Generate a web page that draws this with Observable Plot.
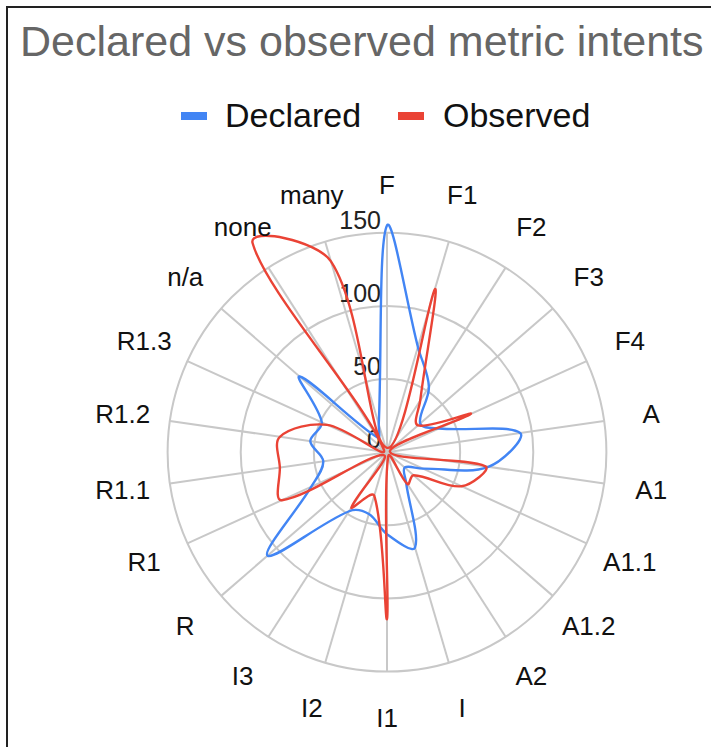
<!DOCTYPE html>
<html>
<head>
<meta charset="utf-8">
<script src="https://cdn.jsdelivr.net/npm/d3@7"></script>
<script src="https://cdn.jsdelivr.net/npm/@observablehq/plot@0.6"></script>
<style>
  html, body { margin: 0; padding: 0; background: #fff; overflow: hidden; }
  body { width: 711px; height: 747px; position: relative; font-family: "Liberation Sans", Arial, sans-serif; }
  #frame { position: absolute; left: 6px; top: 6px; width: 1000px; height: 1000px; border: 2px solid #222; box-sizing: border-box; }
  #title { position: absolute; left: 20px; top: 20px; font-size: 43px; line-height: 1; color: #666; white-space: nowrap; }
  .leg { position: absolute; top: 98px; font-size: 34px; line-height: 1; color: #111; white-space: nowrap; }
  .sw { position: absolute; top: 112px; width: 26px; height: 8px; }
  #chart { position: absolute; left: 0; top: 150px; }
</style>
</head>
<body>
<div id="frame"></div>
<div id="title">Declared vs observed metric intents</div>
<div class="sw" style="left:181px;background:#4285F4"></div>
<div class="leg" style="left:225px">Declared</div>
<div class="sw" style="left:398px;background:#EA4335"></div>
<div class="leg" style="left:443px">Observed</div>
<div id="chart"></div>
<script>
const categories = ["F","F1","F2","F3","F4","A","A1","A1.1","A1.2","A2","I","I1","I2","I3","R","R1","R1.1","R1.2","R1.3","n/a","none","many"];
const declared = [155,75,53,30,39,92,70,27,16,24,68,56,44,48,108,57,44,53,49,79,12,20];
const observed = [3,116,42,28,63,2,68,56,24,26,3,114,31,45,3,79,74,74,45,3,170,136];
const seriesNames = ["Declared","Observed"];
const seriesColors = ["#4285F4","#EA4335"];
const ticks = [0,50,100,150];
const rings = [50,100,150];
const maxValue = 150;
const labelRadius = 182.5;

const n = categories.length;
const angle = i => 2 * Math.PI * i / n;
const rows = [];
[declared, observed].forEach((vals, s) => {
  vals.forEach((v, i) => rows.push({series: seriesNames[s], category: categories[i], i, value: v}));
});
const cats = categories.map((c, i) => ({category: c, i}));

// Chart.js-like closed spline (tension) as a d3 curve factory
function splineClosed(tension) {
  return function(context) {
    let pts = [];
    return {
      areaStart() {}, areaEnd() {},
      lineStart() { pts = []; },
      point(x, y) { pts.push([+x, +y]); },
      lineEnd() {
        const m = pts.length;
        if (!m) return;
        const cps = pts.map((p, i) => {
          const a = pts[(i - 1 + m) % m], b = pts[(i + 1) % m];
          const d01 = Math.hypot(p[0] - a[0], p[1] - a[1]);
          const d12 = Math.hypot(b[0] - p[0], b[1] - p[1]);
          let s01 = d01 / (d01 + d12), s12 = d12 / (d01 + d12);
          if (!isFinite(s01)) s01 = 0;
          if (!isFinite(s12)) s12 = 0;
          const fa = tension * s01, fb = tension * s12;
          return {
            p: [p[0] - fa * (b[0] - a[0]), p[1] - fa * (b[1] - a[1])],
            q: [p[0] + fb * (b[0] - a[0]), p[1] + fb * (b[1] - a[1])]
          };
        });
        context.moveTo(pts[0][0], pts[0][1]);
        for (let k = 1; k <= m; k++) {
          const c0 = cps[k - 1], c1 = cps[k % m], p = pts[k % m];
          context.bezierCurveTo(c0.q[0], c0.q[1], c1.p[0], c1.p[1], p[0], p[1]);
        }
        context.closePath();
      }
    };
  };
}

const cx = 386.5, cy = 301.7, R = 219.4;
const chart = Plot.plot({
  width: 711,
  height: 597,
  margin: 0,
  style: {fontFamily: "'Liberation Sans', Arial, sans-serif", background: "transparent", overflow: "visible"},
  x: {domain: [-maxValue, maxValue], range: [cx - R, cx + R], axis: null},
  y: {domain: [-maxValue, maxValue], range: [cy + R, cy - R], axis: null},
  r: {type: "linear", domain: [0, maxValue], range: [0, R]},
  color: {domain: seriesNames, range: seriesColors},
  marks: [
    Plot.dot(rings, {x: () => 0, y: () => 0, r: d => d, fill: "none", stroke: "#c8c8c8", strokeWidth: 2}),
    Plot.link(cats, {x1: () => 0, y1: () => 0,
      x2: d => maxValue * Math.sin(angle(d.i)), y2: d => maxValue * Math.cos(angle(d.i)),
      stroke: "#c8c8c8", strokeWidth: 2}),
    Plot.text(ticks, {x: () => 0, y: d => d, text: d => String(d), textAnchor: "end", lineAnchor: "bottom",
      dx: -6, dy: -4, fontSize: 25, fill: "#222"}),
    Plot.line(rows, {x: d => d.value * Math.sin(angle(d.i)), y: d => d.value * Math.cos(angle(d.i)),
      z: "series", stroke: "series", strokeWidth: 2.4, curve: splineClosed(0.35)}),
    Plot.text(cats, {x: d => labelRadius * Math.sin(angle(d.i)), y: d => labelRadius * Math.cos(angle(d.i)),
      text: "category", fontSize: 26, fill: "#111", textAnchor: "middle", lineAnchor: "middle"})
  ]
});
document.getElementById("chart").appendChild(chart);
</script>
</body>
</html>
